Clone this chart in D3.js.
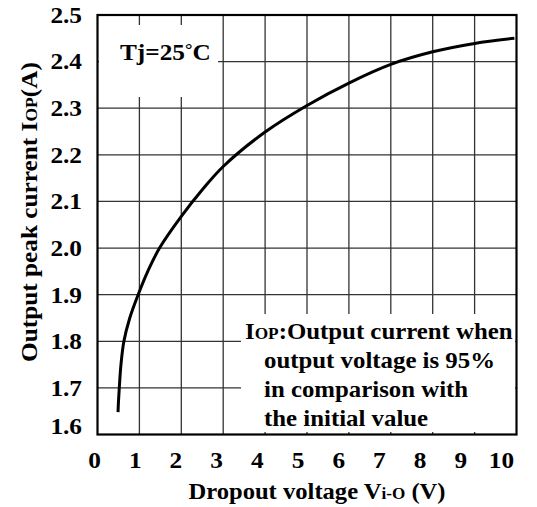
<!DOCTYPE html>
<html>
<head>
<meta charset="utf-8">
<script src="https://cdn.jsdelivr.net/npm/d3@7"></script>
<style>
  html, body { margin: 0; padding: 0; background: #fff; }
  svg { display: block; }
  text { font-family: "Liberation Serif", "Times New Roman", serif; font-weight: bold; fill: #000; }
</style>
</head>
<body>
<svg id="chart" width="537" height="507"></svg>
<script>
// ---- data ----
const dropoutVoltage = [0.49, 0.5, 0.52, 0.56, 0.63, 0.77, 0.97, 1.2, 1.48, 2.0, 2.5, 3.0, 4.0, 5.0, 6.0, 7.0, 8.0, 9.0, 9.95];
const peakCurrent    = [1.648, 1.67, 1.7, 1.75, 1.8, 1.85, 1.9, 1.95, 2.0, 2.068, 2.125, 2.175, 2.249, 2.306, 2.354, 2.394, 2.421, 2.439, 2.45];
const xTicks = [0, 1, 2, 3, 4, 5, 6, 7, 8, 9, 10];
const yTicks = [1.6, 1.7, 1.8, 1.9, 2.0, 2.1, 2.2, 2.3, 2.4, 2.5];
const noteLines = ["output voltage is 95%", "in comparison with", "the initial value"];

const FS = 23, SX = 1.1;
const svg = d3.select("#chart");
const L = 97.5, R = 516.5, T = 15, B = 434.5;

const x = d3.scaleLinear().domain([0, 10]).range([L, R]);
const y = d3.scaleLinear().domain([1.6, 2.5]).range([B, T]);
const xLabel = d3.scaleLinear().domain([0, 10]).range([94, 501]);

svg.append("rect").attr("width", 537).attr("height", 507).attr("fill", "#fff");

// grid
const grid = svg.append("g").attr("stroke", "#333").attr("stroke-width", 1.3);
grid.selectAll("line.v").data(xTicks.slice(1, -1)).join("line")
  .attr("x1", d => x(d)).attr("x2", d => x(d)).attr("y1", T).attr("y2", B);
grid.selectAll("line.h").data(yTicks.slice(1, -1)).join("line")
  .attr("x1", L).attr("x2", R).attr("y1", d => y(d)).attr("y2", d => y(d));

// annotation boxes (white, hide grid)
svg.append("rect").attr("x", L + 1.5).attr("y", 25).attr("width", 218 - L - 1.5).attr("height", 72).attr("fill", "#fff");
svg.append("rect").attr("x", 241).attr("y", 314).attr("width", R - 1.5 - 241).attr("height", 432 - 314).attr("fill", "#fff");

// border
svg.append("rect").attr("x", L).attr("y", T).attr("width", R - L).attr("height", B - T)
  .attr("fill", "none").attr("stroke", "#000").attr("stroke-width", 2.2);

// curve
const pts = dropoutVoltage.map((v, i) => [v, peakCurrent[i]]);
svg.append("path").datum(pts)
  .attr("fill", "none").attr("stroke", "#000").attr("stroke-width", 3)
  .attr("d", d3.line().x(d => x(d[0])).y(d => y(d[1])).curve(d3.curveCatmullRom.alpha(0.5)));

// y axis labels
const yAxis = svg.append("g").attr("transform", `translate(82,0)`)
  .call(d3.axisLeft(y).tickValues(yTicks).tickSize(0).tickPadding(0).tickFormat(d3.format(".1f")));
yAxis.select(".domain").remove();
yAxis.selectAll("text").attr("font-size", FS).attr("font-family", null)
  .attr("transform", `scale(${SX},1)`)
  .attr("dy", d => d === 1.6 ? "-0.05em" : "0.32em");

// x axis labels
const xAxis = svg.append("g").attr("transform", `translate(0,453)`)
  .call(d3.axisBottom(xLabel).tickValues(xTicks).tickSize(0).tickPadding(0).tickFormat(d3.format("d")));
xAxis.select(".domain").remove();
xAxis.selectAll("text").attr("font-size", FS).attr("font-family", null).attr("dy", "0.66em")
  .attr("transform", `scale(${SX},1)`);

// helper for horizontally stretched text
function stretched(tx, ty, rot, sx) {
  return svg.append("text")
    .attr("transform", `translate(${tx},${ty})${rot ? ` rotate(${rot})` : ""} scale(${sx || SX},1)`)
    .attr("font-size", FS);
}

// x title
const xt = stretched(317, 499, 0, 1.07).attr("text-anchor", "middle");
xt.append("tspan").text("Dropout voltage V");
xt.append("tspan").attr("font-size", 16).text("i-O");
xt.append("tspan").text(" (V)");

// y title
const yt = stretched(37, 212, -90).attr("text-anchor", "middle");
yt.append("tspan").text("Output peak current I");
yt.append("tspan").attr("font-size", 16).text("OP");
yt.append("tspan").text("(A)");

// Tj annotation
const tj = stretched(120, 60);
tj.append("tspan").text("Tj=25");
tj.append("tspan").attr("font-size", 17).attr("dy", -5).text("°");
tj.append("tspan").attr("dy", 5).text("C");

// note annotation
const n1 = stretched(245, 339, 0, 1.08);
n1.append("tspan").text("I");
n1.append("tspan").attr("font-size", 16).text("OP");
n1.append("tspan").text(":Output current when");
noteLines.forEach((t, i) => stretched(264, 368 + i * 29, 0, 1.08).text(t));
</script>
</body>
</html>
